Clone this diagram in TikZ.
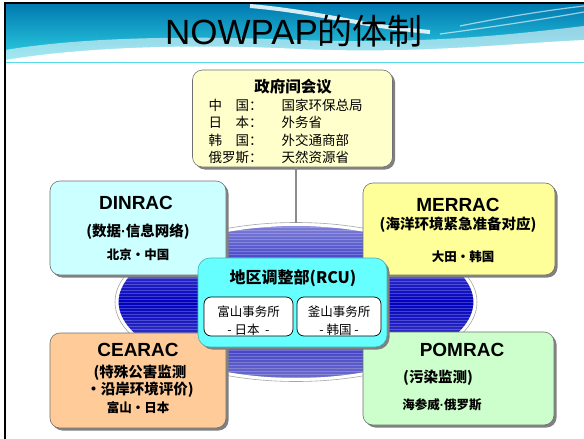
\documentclass[tikz,border=0pt]{standalone}
\usepackage{fontspec}
\setmainfont{Noto Sans CJK SC}
\newfontfamily\lat{Liberation Sans}
\usetikzlibrary{shapes.geometric,shadows}
\definecolor{govfill}{HTML}{FFFFCC}
\definecolor{dinfill}{HTML}{CCFFFF}
\definecolor{merfill}{HTML}{FFFF99}
\definecolor{ceafill}{HTML}{FFCC99}
\definecolor{pomfill}{HTML}{CCFFCC}
\definecolor{rcufill}{HTML}{66FFFF}
\definecolor{boxgray}{HTML}{707070}
\definecolor{bandtop}{HTML}{0078B0}
\definecolor{bandbot}{HTML}{30D4E4}
\definecolor{elltop}{HTML}{8080D8}
\definecolor{ellmid}{HTML}{0000BE}
\definecolor{ellbot}{HTML}{7070CC}
\tikzset{
  box/.style={draw=boxgray, line width=0.6pt, rounded corners=10pt,
    drop shadow={shadow xshift=2.5pt, shadow yshift=-2.5pt, fill=black!50, opacity=1}},
  subbox/.style={draw=black, line width=0.7pt, fill=white, rounded corners=7pt},
  hd/.style={font=\lat\bfseries\fontsize{19}{22}\selectfont},
  subt/.style={font=\bfseries\fontsize{14.5}{17}\selectfont},
  loc/.style={font=\bfseries\fontsize{12.5}{15}\selectfont},
  row/.style={anchor=west, font=\fontsize{13.5}{16}\selectfont},
  conn/.style={draw=black!45, line width=1.8pt},
}
\newcommand{\nd}{{\lat\bfseries\textperiodcentered}}
\begin{document}
\begin{tikzpicture}[x=1pt,y=-1pt]
\useasboundingbox (0,0) rectangle (584,439);
\fill[white] (0,0) rectangle (584,439);
% top band
\shade[top color=bandtop, bottom color=bandbot] (5,3) rectangle (584,62);
\fill[white, opacity=0.55] (5,62) -- (5,50) .. controls (90,36) and (200,36) .. (300,40)
  .. controls (420,44) and (500,36) .. (584,26) -- (584,62) -- cycle;
\fill[white] (5,62) -- (5,60) .. controls (90,46) and (200,44) .. (300,49)
  .. controls (420,54) and (500,44) .. (584,40) -- (584,62) -- cycle;
\draw[white, opacity=0.85, line width=4pt] (250,6) .. controls (320,12) and (360,26) .. (430,32);
\draw[white, opacity=0.6, line width=1.2pt] (460,26) .. controls (510,16) and (550,10) .. (584,6);
\draw[white, opacity=0.6, line width=1.2pt] (440,34) .. controls (500,26) and (550,18) .. (584,12);
\draw[black, line width=2pt] (5,439) -- (5,3) -- (584,3);
% title
\node[font=\fontsize{35}{40}\selectfont] (title) at (294,31) {{\lat NOWPAP}的体制};
% ellipse
\node[ellipse, minimum width=358pt, minimum height=155pt, draw=white, line width=3pt,
  top color=elltop, bottom color=ellbot, middle color=ellmid,
  path picture={\foreach \k in {0,...,53}{\draw[white,opacity=0.22,line width=0.8pt]
     ([yshift=-\k*3pt]path picture bounding box.north west) --
     ([yshift=-\k*3pt]path picture bounding box.north east);}}] (ell) at (296,302) {};
\draw[black!35, line width=0.6pt] (ell.center) ellipse [x radius=181, y radius=79.5];
% government box
\node[box, fill=govfill, minimum width=200pt, minimum height=97pt] (gov) at (292.5,118.5) {};
\draw[conn] (gov.south -| ell.north) -- (ell.north);
\node[font=\bfseries\fontsize{15.5}{18}\selectfont] (govt) at (293,87) {政府间会议};
\node[row] (l1) at (205,105) {中　国：};
\node[row] (v1) at (278,105) {国家环保总局};
\node[row] (l2) at (205,122.5) {日　本：};
\node[row] (v2) at (278,122.5) {外务省};
\node[row] (l3) at (205,140) {韩　国：};
\node[row] (v3) at (278,140) {外交通商部};
\node[row] (l4) at (205,157.5) {俄罗斯：};
\node[row] (v4) at (278,157.5) {天然资源省};
% regional activity centres
\node[box, fill=dinfill, minimum width=176pt, minimum height=94pt] (din) at (138,228) {};
\node[hd] (dinT) at (136,203) {DINRAC};
\node[subt] (dinS) at (138,232) {(数据\nd 信息网络)};
\node[loc] (dinL) at (138,255) {北京・中国};
\node[box, fill=merfill, minimum width=192pt, minimum height=92pt] (mer) at (459,229) {};
\node[hd] (merT) at (458,205) {MERRAC};
\node[subt] (merS) at (458,225) {(海洋环境紧急准备对应)};
\node[loc] (merL) at (463,257) {大田・韩国};
\node[box, fill=ceafill, minimum width=176pt, minimum height=95pt] (cea) at (138,380.5) {};
\node[hd] (ceaT) at (138,350) {CEARAC};
\node[subt, align=center, font=\bfseries\fontsize{14.5}{12}\selectfont] (ceaS) at (140,381) {(特殊公害监测\\・沿岸环境评价)};
\node[loc] (ceaL) at (138,408) {富山・日本};
\node[box, fill=pomfill, minimum width=191pt, minimum height=93pt] (pom) at (458.5,378.5) {};
\node[hd] (pomT) at (462,350) {POMRAC};
\node[subt] (pomS) at (438,378) {(污染监测)};
\node[loc] (pomL) at (442,405) {海参威\nd 俄罗斯};
% RCU
\node[box, draw=rcufill!70!black, fill=rcufill, rounded corners=12pt, minimum width=189pt, minimum height=89pt] (rcu) at (292.5,302.5) {};
\node[font=\bfseries\fontsize{16}{19}\selectfont] (rcuT) at (293,278) {地区调整部(RCU)};
\node[subbox, minimum width=89pt, minimum height=39pt] (toy) at (248.5,316.5) {};
\node[subbox, minimum width=84pt, minimum height=39pt] (bus) at (339,316.5) {};
\node[align=center, font=\fontsize{12.5}{18}\selectfont] (toyT) at (248.5,321) {富山事务所\\- 日本\ \ -};
\node[align=center, font=\fontsize{12.5}{18}\selectfont] (busT) at (339,321) {釜山事务所\\- 韩国 -};
\end{tikzpicture}
\end{document}
